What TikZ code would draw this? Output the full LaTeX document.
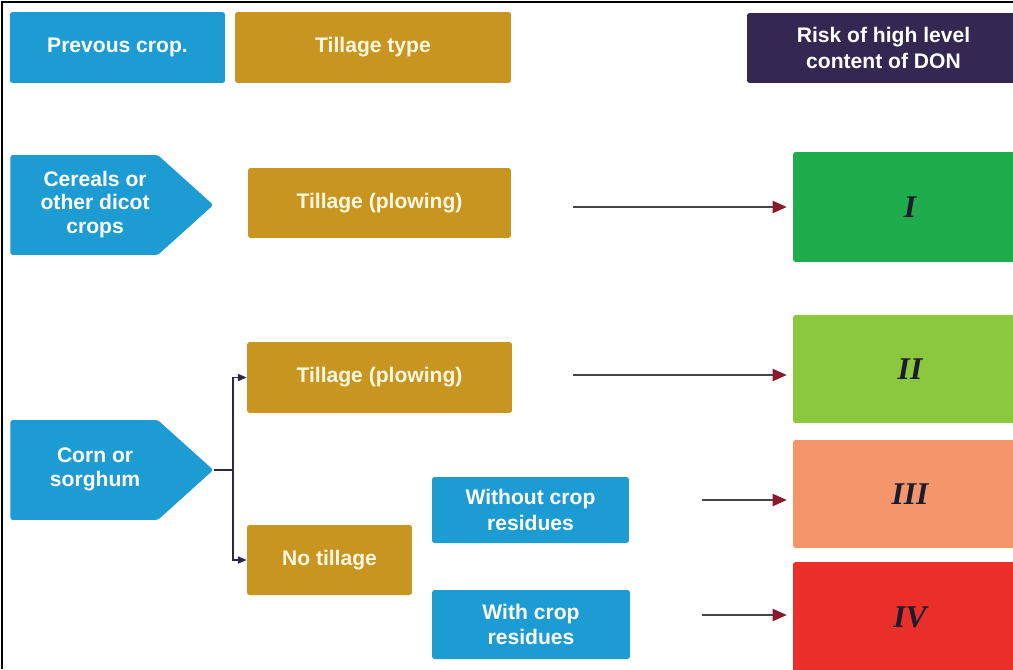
\documentclass[tikz,border=0pt]{standalone}
\usepackage{fontspec}
\setmainfont{Liberation Sans}
\newfontfamily\romanfont{Liberation Serif}
\usetikzlibrary{positioning,shapes.symbols,arrows.meta}
\definecolor{cropblue}{RGB}{28,156,210}
\definecolor{tillgold}{RGB}{200,150,32}
\definecolor{tilltext}{RGB}{255,248,225}
\definecolor{donpurple}{RGB}{52,40,82}
\definecolor{riskone}{RGB}{30,172,76}
\definecolor{risktwo}{RGB}{140,200,62}
\definecolor{riskthree}{RGB}{244,150,106}
\definecolor{riskfour}{RGB}{234,46,40}
\definecolor{numdark}{RGB}{28,28,48}
\definecolor{arrowgray}{RGB}{70,70,70}
\definecolor{arrowred}{RGB}{140,24,44}
\definecolor{linenavy}{RGB}{40,40,72}
\newcommand{\croplines}[1]{\begin{tabular}{@{\hspace{0.44cm}}c@{}}#1\end{tabular}}

\begin{document}
\begin{tikzpicture}[x=0.02cm,y=-0.02cm,
    box/.style={rectangle,rounded corners=1.5pt,text=white,align=center,inner sep=2pt,
      font=\fontsize{12}{14.5}\selectfont\bfseries},
    bluebox/.style={box,fill=cropblue},
    goldbox/.style={box,fill=tillgold,text=tilltext},
    cropsig/.style={box,fill=cropblue,shape=signal,signal to=east,signal pointer angle=84,
      minimum height=2cm,minimum width=4.06cm,font=\fontsize{12}{13.5}\selectfont\bfseries},
    riskbox/.style={box,minimum width=4.68cm,text=numdark,
      font={\romanfont\fontsize{18}{20}\selectfont\bfseries\itshape}},
    riskarrow/.style={draw=arrowgray,line width=0.8pt,shorten >=0.12cm,
      -{Triangle[length=8pt,width=7pt,color=arrowred]}},
    splitarrow/.style={draw=linenavy,line width=0.8pt,-{Triangle[length=5pt,width=4pt]}}]
    \clip (0,0) rectangle (1013,669);
    \fill[white] (0,0) rectangle (1013,669);
    \draw[line width=1.2pt] (2,669) -- (2,2) -- (1013,2);

    \node[bluebox,minimum width=4.3cm,minimum height=1.42cm] (prev) at (117.5,47.5) {Prevous crop.};
    \node[goldbox,minimum width=5.52cm,minimum height=1.42cm] (ttype) at (373,47.5) {Tillage type};
    \node[box,fill=donpurple,minimum width=5.46cm,minimum height=1.4cm] (risk) at (883.5,48) {Risk of high level\\content of DON};

    \node[cropsig,anchor=west] (cereal) at (10,205) {\croplines{Cereals or\\other dicot\\crops}};
    \node[goldbox,minimum width=5.26cm,minimum height=1.4cm] (till1) at (379.5,203) {Tillage (plowing)};

    \node[riskbox,fill=riskone,minimum height=2.2cm] (r1) at (910,207) {I};
    \node[riskbox,fill=risktwo,minimum height=2.16cm] (r2) at (910,369) {II};
    \node[riskbox,fill=riskthree,minimum height=2.16cm] (r3) at (910,494) {III};
    \node[riskbox,fill=riskfour,minimum height=2.2cm] (r4) at (910,617) {IV};

    \node[goldbox,minimum width=5.3cm,minimum height=1.42cm] (till2) at (379.5,377.5) {Tillage (plowing)};
    \node[cropsig,anchor=west] (corn) at (10,470) {\croplines{Corn or\\sorghum}};
    \node[goldbox,minimum width=3.3cm,minimum height=1.4cm] (notill) at (329.5,560) {No tillage};
    \node[bluebox,minimum width=3.94cm,minimum height=1.32cm] (without) at (530.5,510) {Without crop\\residues};
    \node[bluebox,minimum width=3.96cm,minimum height=1.38cm] (with) at (531,624.5) {With crop\\residues};

    \coordinate (t1) at (573,207);
    \coordinate (t2) at (573,375);
    \coordinate (t3) at (702,500);
    \coordinate (t4) at (702,615);
    \draw[riskarrow] (t1) -- (t1 -| r1.west);
    \draw[riskarrow] (t2) -- (t2 -| r2.west);
    \draw[riskarrow] (t3) -- (t3 -| r3.west);
    \draw[riskarrow] (t4) -- (t4 -| r4.west);

    \draw[splitarrow] (corn.east) -- ++(19,0) |- (till2.west);
    \draw[splitarrow] (corn.east) -- ++(19,0) |- (notill.west);
\end{tikzpicture}
\end{document}
